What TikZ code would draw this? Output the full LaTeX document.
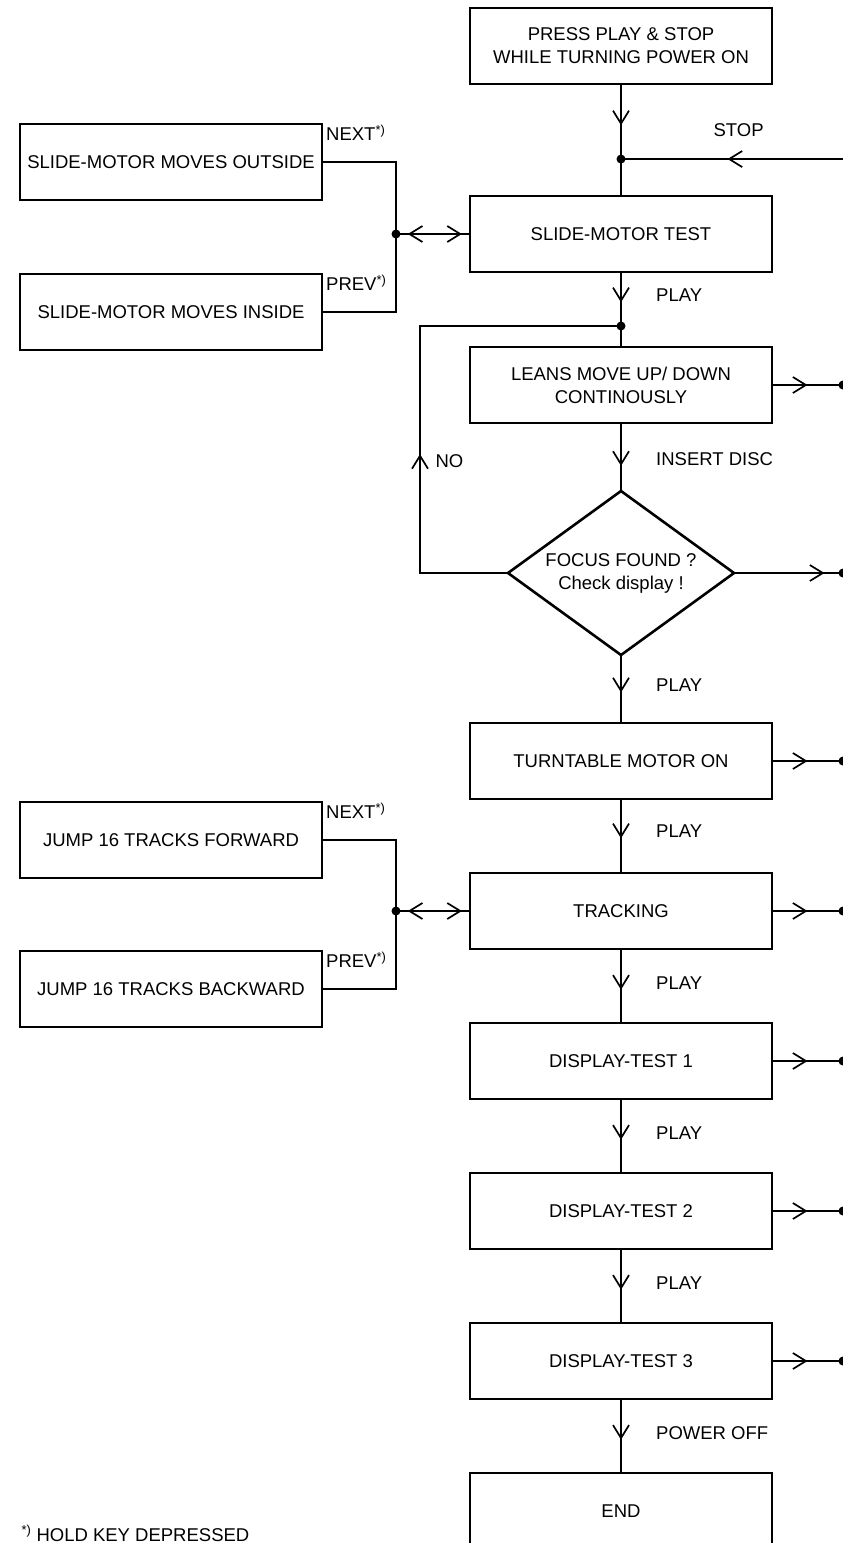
\documentclass[tikz,border=0pt]{standalone}
\usepackage{fontspec}
\setmainfont{Liberation Sans}
\usetikzlibrary{positioning,calc,shapes.geometric,arrows.meta,decorations.markings}
\newcommand{\FlowGap}{74}
\newcommand{\SideGap}{148}
\tikzset{
	flowtip/.tip={Straight Barb[length=13pt, width=16pt]},
	flowbox/.style={draw, line width=2.6pt, outer sep=0pt, minimum width=302pt, minimum height=76pt, align=center, inner sep=2pt},
	flowtest/.style={draw, diamond, line width=2.6pt, outer sep=0pt, aspect=1.38, minimum width=226pt, minimum height=164pt, align=center, inner sep=0pt},
	link/.style={line width=1.7pt},
	midarrow/.style={link, postaction={decorate}, decoration={markings, mark=at position #1 with {\arrow{flowtip}}}},
	bothways/.style={link, postaction={decorate}, decoration={markings, mark=at position 0.16 with {\arrowreversed{flowtip}}, mark=at position 0.89 with {\arrow{flowtip}}}},
	flowlabel/.style={anchor=west, xshift=31pt, yshift=7pt},
	keylabel/.style={anchor=west, inner sep=1pt},
}
\begin{document}
\begin{tikzpicture}[x=1pt, y=-1pt, every node/.style={font=\fontsize{18.5}{23}\selectfont}]
	\useasboundingbox (0,0) rectangle (843,1543);
	\coordinate (edge) at (843,0);
	\node[flowbox] (start) at (621,46) {PRESS PLAY \& STOP\\WHILE TURNING POWER ON};
	\node[flowbox, below=112pt of start] (slide) {SLIDE-MOTOR TEST};
	\node[flowbox, below=75pt of slide] (leans) {LEANS MOVE UP/ DOWN\\CONTINOUSLY};
	\node[flowtest, below=68pt of leans] (focus) {FOCUS FOUND ?\\Check display !};
	\node[flowbox, below=68pt of focus] (turn) {TURNTABLE MOTOR ON};
	\node[flowbox, below=\FlowGap pt of turn] (track) {TRACKING};
	\node[flowbox, below=\FlowGap pt of track] (dtone) {DISPLAY-TEST 1};
	\node[flowbox, below=\FlowGap pt of dtone] (dttwo) {DISPLAY-TEST 2};
	\node[flowbox, below=\FlowGap pt of dttwo] (dtthree) {DISPLAY-TEST 3};
	\node[flowbox, below=\FlowGap pt of dtthree] (end) {END};
	\node[flowbox, left=\SideGap pt of slide, yshift=72pt] (outside) {SLIDE-MOTOR MOVES OUTSIDE};
	\node[flowbox, left=\SideGap pt of slide, yshift=-78pt] (inside) {SLIDE-MOTOR MOVES INSIDE};
	\node[flowbox, left=\SideGap pt of track, yshift=71pt] (forward) {JUMP 16 TRACKS FORWARD};
	\node[flowbox, left=\SideGap pt of track, yshift=-78pt] (backward) {JUMP 16 TRACKS BACKWARD};
	\node[keylabel] at ($(outside.north east)+(3,9)$) {NEXT\textsuperscript{*)}};
	\node[keylabel] at ($(inside.north east)+(3,9)$) {PREV\textsuperscript{*)}};
	\node[keylabel] at ($(forward.north east)+(3,9)$) {NEXT\textsuperscript{*)}};
	\node[keylabel] at ($(backward.north east)+(3,9)$) {PREV\textsuperscript{*)}};
	\coordinate (stopj) at ($(start.south)!0.67!(slide.north)$);
	\coordinate (loopj) at ($(slide.south)!0.72!(leans.north)$);
	\coordinate (loopc) at ($(loopj)+(-201,0)$);
	\coordinate (jslide) at ($(slide.west)+(-74,0)$);
	\coordinate (jtrack) at ($(track.west)+(-74,0)$);
	\draw[midarrow=0.55] (start) -- (stopj);
	\draw[link] (stopj) -- (slide);
	\draw[midarrow=0.52] (stopj -| edge) -- (stopj) node[pos=0.47, yshift=29pt] {STOP};
	\draw[midarrow=0.56] (slide) -- (loopj) node[flowlabel, pos=0.56] {PLAY};
	\draw[link] (loopj) -- (leans);
	\draw[midarrow=0.63] (leans) -- (focus) node[flowlabel, pos=0.63] {INSERT DISC};
	\draw[midarrow=0.386] (focus.west) -| (loopc) -- (loopj);
	\node[anchor=west] (nolbl) at ($(loopc)+(12,135)$) {NO};
	\draw[midarrow=0.55] (focus) -- (turn) node[flowlabel, pos=0.55] {PLAY};
	\draw[midarrow=0.53] (turn) -- (track) node[flowlabel, pos=0.53] {PLAY};
	\draw[midarrow=0.55] (track) -- (dtone) node[flowlabel, pos=0.55] {PLAY};
	\draw[midarrow=0.55] (dtone) -- (dttwo) node[flowlabel, pos=0.55] {PLAY};
	\draw[midarrow=0.55] (dttwo) -- (dtthree) node[flowlabel, pos=0.55] {PLAY};
	\draw[midarrow=0.55] (dtthree) -- (end) node[flowlabel, pos=0.55] {POWER OFF};
	\foreach \n/\p in {leans/0.5, focus/0.83, turn/0.5, track/0.5, dtone/0.5, dttwo/0.5, dtthree/0.5} {
		\draw[midarrow=\p] (\n.east) -- (\n.east -| edge);
		\fill (\n.east -| edge) circle (4.5pt);
	}
	\draw[link] (outside.east) -| (jslide);
	\draw[link] (inside.east) -| (jslide);
	\draw[bothways] (jslide) -- (slide.west);
	\draw[link] (forward.east) -| (jtrack);
	\draw[link] (backward.east) -| (jtrack);
	\draw[bothways] (jtrack) -- (track.west);
	\fill (stopj) circle (4.5pt);
	\fill (loopj) circle (4.5pt);
	\fill (jslide) circle (4.5pt);
	\fill (jtrack) circle (4.5pt);
	\node[anchor=base west] (note) at (18,1541) {\textsuperscript{*)} HOLD KEY DEPRESSED};
\end{tikzpicture}
\end{document}
